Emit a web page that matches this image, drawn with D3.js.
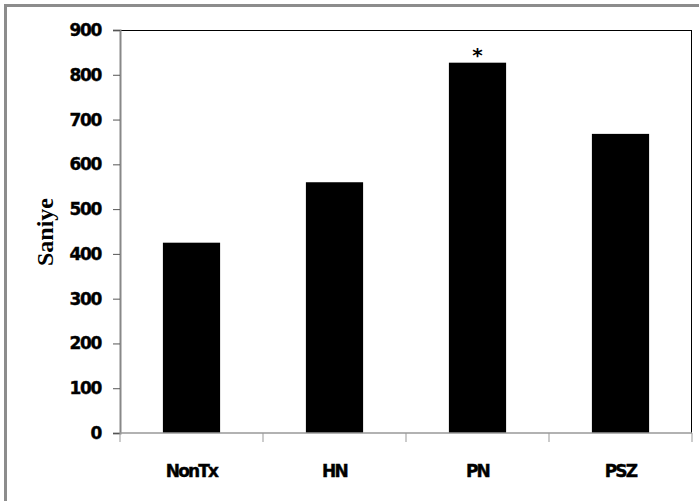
<!DOCTYPE html>
<html>
<head>
<meta charset="utf-8">
<script src="https://cdn.jsdelivr.net/npm/d3@7"></script>
<style>
  body { margin: 0; background: #fff; }
  svg text { font-family: "DejaVu Sans", Verdana, sans-serif; }
</style>
</head>
<body>
<div id="chart"></div>
<script>
// data
var categories = ["NonTx", "HN", "PN", "PSZ"];
var values = [425, 560, 827, 668];
var marks = ["", "", "*", ""];
var yTicks = [0, 100, 200, 300, 400, 500, 600, 700, 800, 900];

var width = 699, height = 501;
var margin = { top: 30, right: 7, bottom: 68, left: 120 };
var plotW = width - margin.left - margin.right,
    plotH = height - margin.top - margin.bottom;

var svg = d3.select("#chart").append("svg")
    .attr("width", width)
    .attr("height", height);

// outer frame (only left/top visible)
svg.append("rect")
    .attr("x", 5.5).attr("y", 5.5)
    .attr("width", width + 10).attr("height", height + 10)
    .attr("fill", "none")
    .attr("stroke", "#8c8c8c")
    .attr("stroke-width", 3);

var g = svg.append("g")
    .attr("transform", "translate(" + margin.left + "," + margin.top + ")");

var x = d3.scaleBand().domain(categories).range([0, plotW]).paddingInner(0.6).paddingOuter(0.3);
var y = d3.scaleLinear().domain([0, 900]).range([plotH, 0]);

// plot border top and right
g.append("line").attr("x1", 0).attr("x2", plotW).attr("y1", 0.5).attr("y2", 0.5)
    .attr("stroke", "#000").attr("stroke-width", 1);
g.append("line").attr("x1", plotW - 0.5).attr("x2", plotW - 0.5).attr("y1", 0).attr("y2", plotH)
    .attr("stroke", "#000").attr("stroke-width", 1);

// bars
g.selectAll("rect.bar").data(values).enter().append("rect")
    .attr("class", "bar")
    .attr("x", function (d, i) { return x(categories[i]); })
    .attr("width", x.bandwidth())
    .attr("y", function (d) { return y(d); })
    .attr("height", function (d) { return plotH - y(d); })
    .attr("fill", "#000");

// significance marks
g.selectAll("text.mark").data(values).enter().append("text")
    .attr("class", "mark")
    .attr("x", function (d, i) { return x(categories[i]) + x.bandwidth() / 2; })
    .attr("y", function (d) { return y(d) - 1; })
    .attr("text-anchor", "middle")
    .attr("font-size", 20)
    .attr("font-weight", "bold")
    .text(function (d, i) { return marks[i]; });

// y axis
var yAxis = g.append("g")
    .call(d3.axisLeft(y).tickValues(yTicks).tickSize(7).tickPadding(12));
yAxis.select(".domain").attr("stroke", "#888").attr("stroke-width", 2);
yAxis.selectAll(".tick line").attr("stroke", "#555");
yAxis.selectAll(".tick text")
    .attr("font-size", 17)
    .attr("font-weight", "bold")
    .attr("letter-spacing", -1.3)
    .attr("fill", "#000")
    .attr("stroke", "#000").attr("stroke-width", 0.4)
    .style("font-family", "'DejaVu Sans', Verdana, sans-serif");

// x axis: ticks at band boundaries
var xAxis = g.append("g").attr("transform", "translate(0," + plotH + ")");
xAxis.append("line").attr("x1", 0).attr("x2", plotW).attr("y1", 0).attr("y2", 0)
    .attr("stroke", "#999").attr("stroke-width", 1.5);
var bounds = d3.range(categories.length + 1).map(function (i) { return i * plotW / categories.length; });
xAxis.selectAll("line.tk").data(bounds).enter().append("line")
    .attr("class", "tk")
    .attr("x1", function (d) { return d; }).attr("x2", function (d) { return d; })
    .attr("y1", 0).attr("y2", 9)
    .attr("stroke", "#999").attr("stroke-width", 1);
xAxis.selectAll("text.cat").data(categories).enter().append("text")
    .attr("class", "cat")
    .attr("x", function (d) { return x(d) + x.bandwidth() / 2; })
    .attr("y", 44)
    .attr("text-anchor", "middle")
    .attr("font-size", 17)
    .attr("font-weight", "bold")
    .attr("letter-spacing", -1.8)
    .attr("stroke", "#000").attr("stroke-width", 0.4)
    .text(function (d) { return d; });

// y title
svg.append("text")
    .attr("transform", "translate(53,232) rotate(-90)")
    .attr("text-anchor", "middle")
    .attr("font-size", 24)
    .attr("font-weight", "bold")
    .style("font-family", "'Liberation Serif', 'Times New Roman', serif")
    .text("Saniye");
</script>
</body>
</html>
